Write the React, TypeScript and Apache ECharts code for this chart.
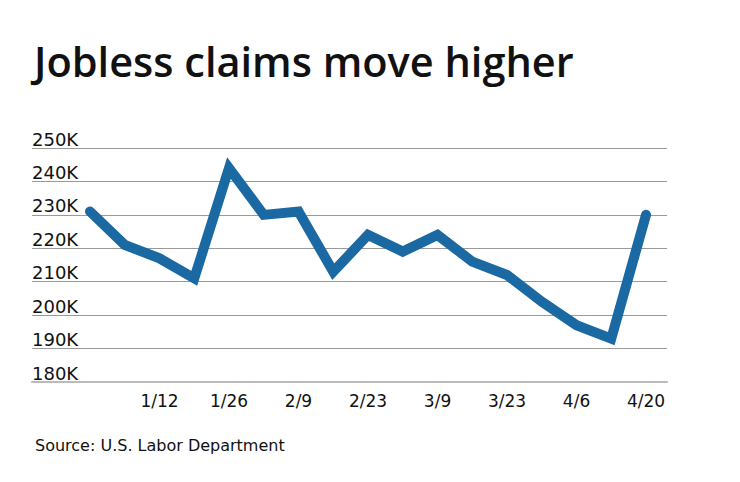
import React, { useEffect, useRef } from "react";
import * as echarts from "echarts";

const weeks = ["12/29", "1/5", "1/12", "1/19", "1/26", "2/2", "2/9", "2/16", "2/23", "3/2", "3/9", "3/16", "3/23", "3/30", "4/6", "4/13", "4/20"];
const claims = [231, 221, 217, 211, 244, 230, 231, 213, 224, 219, 224, 216, 212, 204, 197, 193, 230];
const labeledWeeks = [2, 4, 6, 8, 10, 12, 14, 16];
const yTicks = { min: 180, max: 250, step: 10 };

const FONT = "DejaVu Sans";

export default function App() {
  const ref = useRef<HTMLDivElement>(null);
  useEffect(() => {
    document.body.style.margin = "0";
    const chart = echarts.init(ref.current!, null, { renderer: "svg" });
    chart.setOption({
      animation: false,
      backgroundColor: "#ffffff",
      title: [
        {
          text: "Jobless claims move higher",
          left: 29,
          top: 35,
          textStyle: { fontFamily: "Open Sans", fontSize: 41.5, fontWeight: 600, color: "#111" },
        },
        {
          text: "Source: U.S. Labor Department",
          left: 30,
          top: 432,
          textStyle: { fontFamily: FONT, fontSize: 16, fontWeight: "normal", color: "#111" },
        },
      ],
      grid: { left: 32, right: 73, top: 148, bottom: 100 },
      xAxis: {
        type: "value",
        min: -1.669,
        max: 16.604,
        axisLine: { show: true, lineStyle: { color: "#bbbbbb", width: 2 } },
        axisTick: { show: false },
        splitLine: { show: false },
        axisLabel: {
          customValues: labeledWeeks,
          formatter: (v: number) => weeks[Math.round(v)] ?? "",
          fontFamily: FONT,
          fontSize: 17,
          color: "#111",
          margin: 10,
        },
      },
      yAxis: {
        type: "value",
        min: yTicks.min,
        max: yTicks.max,
        interval: yTicks.step,
        axisLine: { show: false },
        axisTick: { show: false },
        splitLine: { lineStyle: { color: "#999999", width: 1 } },
        axisLabel: {
          inside: true,
          margin: 0,
          verticalAlign: "bottom",
          formatter: (v: number) => `${v}K`,
          fontFamily: FONT,
          fontSize: 18,
          color: "#111",
        },
      },
      series: [
        {
          type: "line",
          data: claims.map((v, i) => [i, v]),
          showSymbol: false,
          clip: false,
          lineStyle: { color: "#1b69a2", width: 10, cap: "round", join: "miter" },
        },
      ],
    });
    return () => chart.dispose();
  }, []);
  return <div ref={ref} style={{ width: 740, height: 482 }} />;
}
